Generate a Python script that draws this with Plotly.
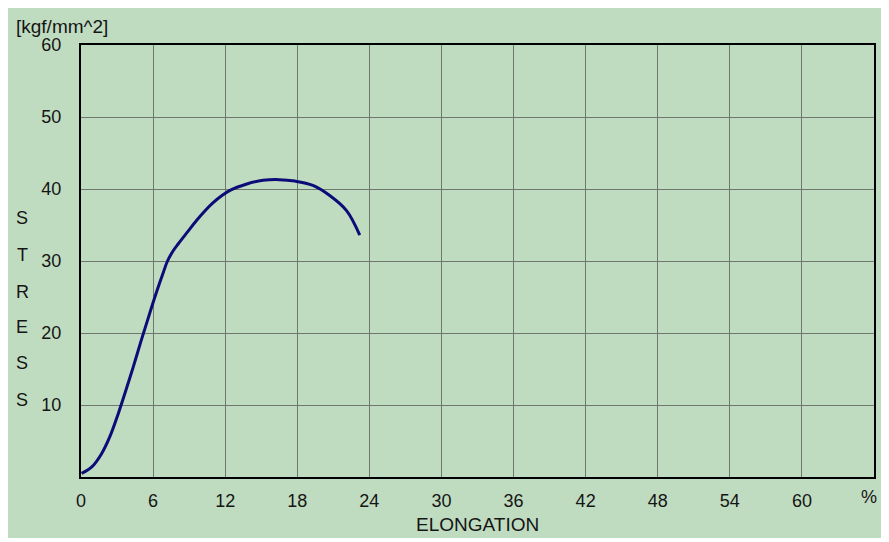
import plotly.graph_objects as go

# Data
elongation = [0.05, 0.9, 1.7, 2.4, 3.1, 3.65, 4.35, 5.0, 5.45, 6.15, 6.85, 7.2, 7.7,
              8.1, 8.8, 9.6, 11.0, 12.4, 13.8, 15.15, 16.5, 17.8, 19.3, 20.7, 22.1, 23.2]
stress = [0.5, 1.4, 3.2, 5.6, 8.8, 11.6, 15.3, 18.9, 21.3, 25.0, 28.4, 30.0, 31.5,
          32.4, 33.9, 35.6, 38.1, 39.8, 40.7, 41.2, 41.3, 41.1, 40.5, 39.1, 37.0, 33.6]

x_tickvals = [0, 6, 12, 18, 24, 30, 36, 42, 48, 54, 60]
x_ticktext = ["0", "6", "12", "18", "24", "30", "36", "42", "48", "54", "60"]
y_tickvals = [10, 20, 30, 40, 50, 60]
y_ticktext = ["10", "20", "30", "40", "50", "60"]
stress_letters = ["S", "T", "R", "E", "S", "S"]

# figure sits at page offset (8, 8) because of the default body margin
OFF = 8
W, H = 881, 530
L, R, T, B = 73, 15, 37, 61
pw, ph = W - L - R, H - T - B

def px(x):
    return (x - OFF - L) / pw

def py(y):
    return (H - B - (y - OFF)) / ph

GREEN = "#c0dcc0"
FONT = "Liberation Sans"

fig = go.Figure()
fig.add_trace(go.Scatter(
    x=elongation, y=stress, mode="lines",
    line=dict(color="#0c0c78", width=3, shape="spline", smoothing=1.0),
    hoverinfo="skip", showlegend=False,
))

fig.update_layout(
    width=W, height=H,
    margin=dict(l=L, r=R, t=T, b=B),
    paper_bgcolor=GREEN,
    plot_bgcolor=GREEN,
    font=dict(family=FONT, size=18, color="#151515"),
    xaxis=dict(range=[0, 66], tickvals=x_tickvals, ticktext=x_ticktext,
               showgrid=True, gridcolor="#6e786e", gridwidth=1,
               showline=True, linecolor="black", linewidth=2, mirror=True,
               zeroline=False, ticks="", ticklabelstandoff=6,
               tickfont=dict(size=18, family=FONT)),
    yaxis=dict(range=[0, 60], tickvals=y_tickvals, ticktext=y_ticktext,
               showgrid=True, gridcolor="#6e786e", gridwidth=1,
               showline=True, linecolor="black", linewidth=2, mirror=True,
               zeroline=False, ticks="", ticklabelstandoff=14,
               tickfont=dict(size=18, family=FONT)),
)

annotations = [
    dict(text="[kgf/mm^2]", x=px(14), y=py(26), xanchor="left", yanchor="middle",
         font=dict(size=19)),
    dict(text="ELONGATION", x=px(477), y=py(524), xanchor="center", yanchor="middle",
         font=dict(size=19)),
    dict(text="%", x=px(869), y=py(497), xanchor="center", yanchor="middle",
         font=dict(size=18)),
]
letter_y = [218, 255, 292, 327, 363, 400]
for ch, yy in zip(stress_letters, letter_y):
    annotations.append(dict(text=ch, x=px(22), y=py(yy), xanchor="center",
                            yanchor="middle", font=dict(size=18)))
for a in annotations:
    a.update(xref="paper", yref="paper", showarrow=False)
fig.update_layout(annotations=annotations)

fig.write_html("out.html")
